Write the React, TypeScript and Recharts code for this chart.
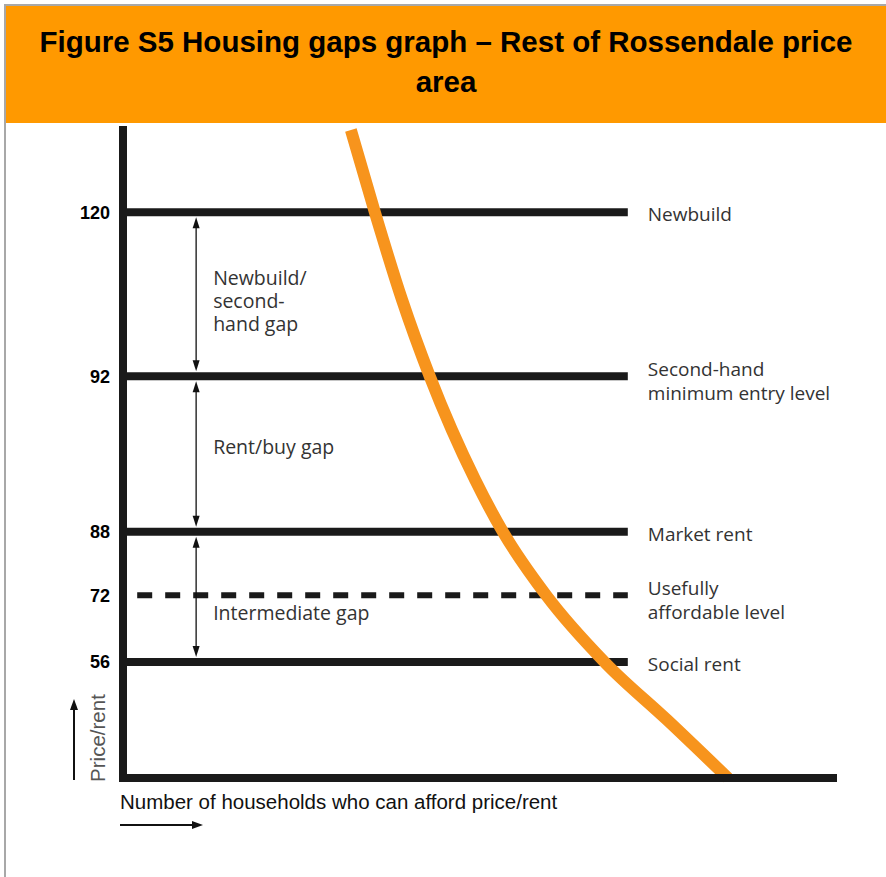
import React from 'react';
import { LineChart, Line, XAxis, YAxis, ReferenceLine } from 'recharts';

// schematic chart: positions are on a 0-100 scale
const levelLabels = ['120', '92', '88', '72', '56'];
const levelPos = [87.3, 62.0, 38.0, 28.2, 17.9];
const levelNames = [
  ['Newbuild'],
  ['Second-hand', 'minimum entry level'],
  ['Market rent'],
  ['Usefully', 'affordable level'],
  ['Social rent'],
];

const gapFrom = [0, 1, 2];
const gapTo = [1, 2, 4];
const gapNames = [['Newbuild/', 'second-', 'hand gap'], ['Rent/buy gap'], ['Intermediate gap']];

const curveX = [32.1, 35.5, 39.3, 43.2, 49.6, 53.5, 59.6, 68.0, 76.6, 85.2];
const curveY = [100, 87.2, 73.8, 62.0, 46.0, 38.0, 28.2, 17.7, 9.0, 0];

const curveData = curveX.map((x, i) => ({ x, y: curveY[i] }));

const LINE_END = 71.1;
const DASH_START = 2;
const ARROW_X = 10.3;
const DASHED = '72';
const gapOffsets = [6, -8, 16];

const labelFont = '"Open Sans", sans-serif';
const arial = '"Liberation Sans", Arial, sans-serif';

const LevelLabel = ({ viewBox, lines }: any) => {
  const x = viewBox.x + viewBox.width + 20;
  const cy = viewBox.y + (lines.length > 1 ? 5 : 2);
  const start = cy - ((lines.length - 1) * 24) / 2;
  return (
    <text x={x} fontFamily={labelFont} fontSize={19} fill="#333">
      {lines.map((l: string, i: number) => (
        <tspan key={i} x={x} y={start + i * 24} dominantBaseline="central">
          {l}
        </tspan>
      ))}
    </text>
  );
};

const GapArrow = ({ x1, y1, y2, lines, dy }: any) => {
  const top = Math.min(y1, y2) + 5;
  const bottom = Math.max(y1, y2) - 5;
  const x = x1;
  const cy = (top + bottom) / 2 + dy;
  const start = cy - ((lines.length - 1) * 23) / 2;
  return (
    <g>
      <line x1={x} y1={top + 8} x2={x} y2={bottom - 8} stroke="#111" strokeWidth={1.3} />
      <polygon points={`${x},${top} ${x - 3.5},${top + 11} ${x + 3.5},${top + 11}`} fill="#111" />
      <polygon points={`${x},${bottom} ${x - 3.5},${bottom - 11} ${x + 3.5},${bottom - 11}`} fill="#111" />
      <text x={x + 17} fontFamily={labelFont} fontSize={19.5} fill="#333">
        {lines.map((l: string, i: number) => (
          <tspan key={i} x={x + 17} y={start + i * 23} dominantBaseline="central">
            {l}
          </tspan>
        ))}
      </text>
    </g>
  );
};

const XLabel = ({ viewBox }: any) => {
  const x = viewBox.x;
  const y = viewBox.y;
  return (
    <g>
      <text x={x - 3} y={y + 31} fontFamily={arial} fontSize={20.5} fill="#111">
        Number of households who can afford price/rent
      </text>
      <line x1={x - 3} y1={y + 47} x2={x + 72} y2={y + 47} stroke="#111" strokeWidth={2} />
      <polygon points={`${x + 80},${y + 47} ${x + 69},${y + 43} ${x + 69},${y + 51}`} fill="#111" />
    </g>
  );
};

const YLabel = ({ viewBox }: any) => {
  const bottom = viewBox.y + viewBox.height;
  const lx = viewBox.x + 14;
  const ly = bottom - 40;
  const ax = viewBox.x - 9;
  return (
    <g>
      <text
        x={lx}
        y={ly}
        transform={`rotate(-90, ${lx}, ${ly})`}
        textAnchor="middle"
        dominantBaseline="central"
        fontFamily={arial}
        fontSize={20.5}
        fill="#555"
      >
        Price/rent
      </text>
      <line x1={ax} y1={bottom + 2} x2={ax} y2={bottom - 70} stroke="#111" strokeWidth={2} />
      <polygon points={`${ax},${bottom - 79} ${ax - 4},${bottom - 68} ${ax + 4},${bottom - 68}`} fill="#111" />
    </g>
  );
};

export default function App() {
  return (
    <div style={{ position: 'absolute', left: 0, top: 0, width: 886, height: 877, background: '#fff' }}>
      <div
        style={{
          position: 'absolute',
          left: 4,
          top: 4,
          width: 882,
          height: 873,
          borderLeft: '2px solid #a8a8a8',
          borderTop: '2px solid #a8a8a8',
        }}
      />
      <div
        style={{
          position: 'absolute',
          left: 6,
          top: 6,
          width: 880,
          height: 117,
          background: '#FF9900',
          boxSizing: 'border-box',
          paddingTop: 16,
          textAlign: 'center',
          fontFamily: arial,
          fontWeight: 'bold',
          fontSize: 29.5,
          lineHeight: '40px',
          color: '#000',
        }}
      >
        Figure S5 Housing gaps graph – Rest of Rossendale price
        <br />
        area
      </div>
      <div style={{ position: 'absolute', left: 0, top: 0 }}>
        <LineChart width={886} height={877} data={curveData} margin={{ top: 130, right: 53, left: 83, bottom: 69 }}>
          <XAxis
            type="number"
            dataKey="x"
            domain={[0, 100]}
            height={30}
            tick={false}
            tickLine={false}
            axisLine={{ stroke: '#1a1a1a', strokeWidth: 8, strokeLinecap: 'square' }}
            label={(p: any) => <XLabel {...p} />}
          />
          <YAxis
            type="number"
            domain={[0, 100]}
            width={40}
            ticks={levelPos}
            interval={0}
            tickSize={0}
            tickMargin={13}
            tickLine={false}
            tickFormatter={(v: number) => levelLabels[levelPos.indexOf(v)]}
            tick={{ fontFamily: arial, fontWeight: 'bold', fontSize: 18, fill: '#000' }}
            axisLine={{ stroke: '#1a1a1a', strokeWidth: 8, strokeLinecap: 'square' }}
            label={(p: any) => <YLabel {...p} />}
          />
          {levelPos.map((y, i) => {
            const dashed = levelLabels[i] === DASHED;
            return (
              <ReferenceLine
                key={levelLabels[i]}
                segment={[
                  { x: dashed ? DASH_START : 0, y },
                  { x: LINE_END, y },
                ]}
                stroke="#1a1a1a"
                strokeWidth={dashed ? 6 : 8}
                strokeDasharray={dashed ? '15 13' : undefined}
                label={(p: any) => <LevelLabel {...p} lines={levelNames[i]} />}
              />
            );
          })}
          {gapFrom.map((f, i) => (
            <ReferenceLine
              key={'gap' + i}
              segment={[
                { x: ARROW_X, y: levelPos[f] },
                { x: ARROW_X, y: levelPos[gapTo[i]] },
              ]}
              shape={(p: any) => <GapArrow {...p} lines={gapNames[i]} dy={gapOffsets[i]} />}
            />
          ))}
          <Line
            type="monotone"
            dataKey="y"
            stroke="#F7941D"
            strokeWidth={12}
            dot={false}
            activeDot={false}
            isAnimationActive={false}
          />
        </LineChart>
      </div>
    </div>
  );
}
